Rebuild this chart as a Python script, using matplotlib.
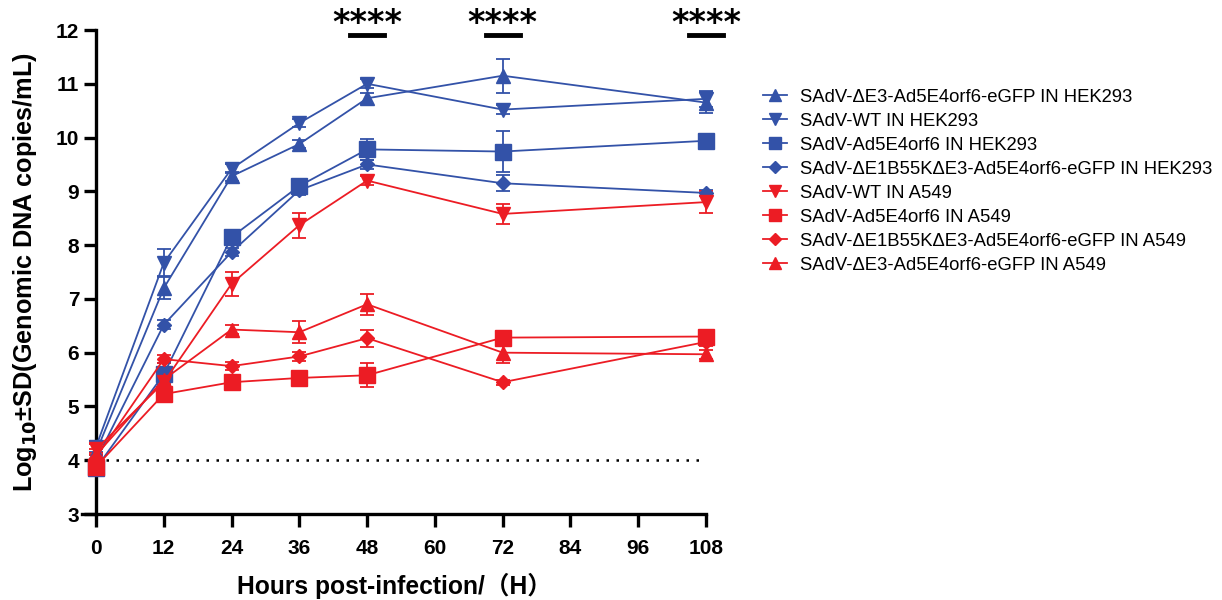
import matplotlib
matplotlib.use("Agg")
import matplotlib.pyplot as plt

plt.rcParams['font.family'] = ['Liberation Sans', 'Noto Sans CJK SC', 'DejaVu Sans']

hours = [0, 12, 24, 36, 48, 72, 108]

labels = [
    "SAdV-ΔE3-Ad5E4orf6-eGFP IN HEK293",
    "SAdV-WT IN HEK293",
    "SAdV-Ad5E4orf6 IN HEK293",
    "SAdV-ΔE1B55KΔE3-Ad5E4orf6-eGFP IN HEK293",
    "SAdV-WT IN A549",
    "SAdV-Ad5E4orf6 IN A549",
    "SAdV-ΔE1B55KΔE3-Ad5E4orf6-eGFP IN A549",
    "SAdV-ΔE3-Ad5E4orf6-eGFP IN A549",
]

e3_hek = [4.15, 7.2, 9.28, 9.88, 10.73, 11.15, 10.65]
wt_hek = [4.25, 7.67, 9.42, 10.27, 11.0, 10.52, 10.72]
orf6_hek = [3.85, 5.6, 8.15, 9.1, 9.78, 9.74, 9.94]
e1b_hek = [4.0, 6.52, 7.87, 9.02, 9.5, 9.15, 8.97]
wt_a549 = [4.2, 5.45, 7.28, 8.37, 9.2, 8.58, 8.8]
orf6_a549 = [3.88, 5.23, 5.45, 5.53, 5.58, 6.28, 6.3]
e1b_a549 = [4.05, 5.88, 5.75, 5.93, 6.27, 5.45, 6.2]
e3_a549 = [4.1, 5.5, 6.43, 6.38, 6.9, 6.0, 5.97]

e3_hek_sd = [0.15, 0.2, 0.08, 0.08, 0.1, 0.32, 0.2]
wt_hek_sd = [0.1, 0.25, 0.08, 0.08, 0.08, 0.08, 0.15]
orf6_hek_sd = [0.15, 0.2, 0.08, 0.08, 0.2, 0.38, 0.08]
e1b_hek_sd = [0.1, 0.08, 0.08, 0.08, 0.08, 0.15, 0.05]
wt_a549_sd = [0.1, 0.2, 0.22, 0.23, 0.08, 0.18, 0.2]
orf6_a549_sd = [0.1, 0.08, 0.08, 0.08, 0.22, 0.08, 0.08]
e1b_a549_sd = [0.08, 0.08, 0.08, 0.08, 0.16, 0.05, 0.08]
e3_a549_sd = [0.1, 0.08, 0.08, 0.2, 0.2, 0.2, 0.08]

sig_x = [48, 72, 108]
sig_text = ["****", "****", "****"]

BLUE = "#3352a8"
RED = "#ec1c24"

series = [
    (e3_hek, e3_hek_sd, BLUE, "^"),
    (wt_hek, wt_hek_sd, BLUE, "v"),
    (orf6_hek, orf6_hek_sd, BLUE, "s"),
    (e1b_hek, e1b_hek_sd, BLUE, "D"),
    (wt_a549, wt_a549_sd, RED, "v"),
    (orf6_a549, orf6_a549_sd, RED, "s"),
    (e1b_a549, e1b_a549_sd, RED, "D"),
    (e3_a549, e3_a549_sd, RED, "^"),
]
msize = {"^": 10.5, "v": 10.5, "s": 11, "D": 7.5}

fig = plt.figure(figsize=(12.22, 6.0), dpi=100)
# x=0 sits at the left spine, bottom spine sticks out a little to the left
ax = fig.add_axes([82 / 1222, 86 / 600, 624 / 1222, 484 / 600])

handles = []
for (y, sd, c, m), lab in zip(series, labels):
    ax.errorbar(hours, y, yerr=sd, color=c, lw=1.3, capsize=5, capthick=1.3,
                elinewidth=1.3, marker=m, ms=msize[m], mec=c, mfc=c, clip_on=False, zorder=3)
    h, = ax.plot([], [], color=c, lw=1.3, marker=m, ms=msize[m] * 0.8, mec=c, mfc=c)
    handles.append(h)

ax.plot([0, 108], [4, 4], color="black", ls=(0, (1, 3)), lw=1.8, zorder=1)

for x, t in zip(sig_x, sig_text):
    ax.plot([x - 3, x + 3], [11.91, 11.91], color="black", lw=3.5, clip_on=False)
    ax.text(x, 12.12, t, ha="center", va="center", fontsize=24, fontweight="bold",
            family="DejaVu Sans", clip_on=False)

ax.set_xlim(-2.48, 108)
ax.set_ylim(3, 12)
ax.set_xticks([0, 12, 24, 36, 48, 60, 72, 84, 96, 108])
ax.set_yticks(range(3, 13))
ax.spines['left'].set_position(('data', 0))
ax.spines['top'].set_visible(False)
ax.spines['right'].set_visible(False)
for sp in ('left', 'bottom'):
    ax.spines[sp].set_linewidth(2.4)
ax.tick_params(width=2.4, length=9, labelsize=15)
ax.tick_params(axis='x', pad=9)
ax.tick_params(axis='y', pad=3)
for lab in ax.get_xticklabels() + ax.get_yticklabels():
    lab.set_fontweight("bold")

ax.set_xlabel("Hours post-infection/（H）", fontsize=17.7, fontweight="bold", labelpad=11)
ax.set_ylabel("Log$_{\\mathbf{10}}$±SD(Genomic DNA copies/mL)", fontsize=18.2, fontweight="bold", labelpad=12)

fig.legend(handles, labels, loc="upper left", bbox_to_anchor=(0.611, 0.88), frameon=False,
           fontsize=13.3, handlelength=1.3, labelspacing=0.38, handletextpad=0.7)

fig.savefig("out.png", dpi=100)
